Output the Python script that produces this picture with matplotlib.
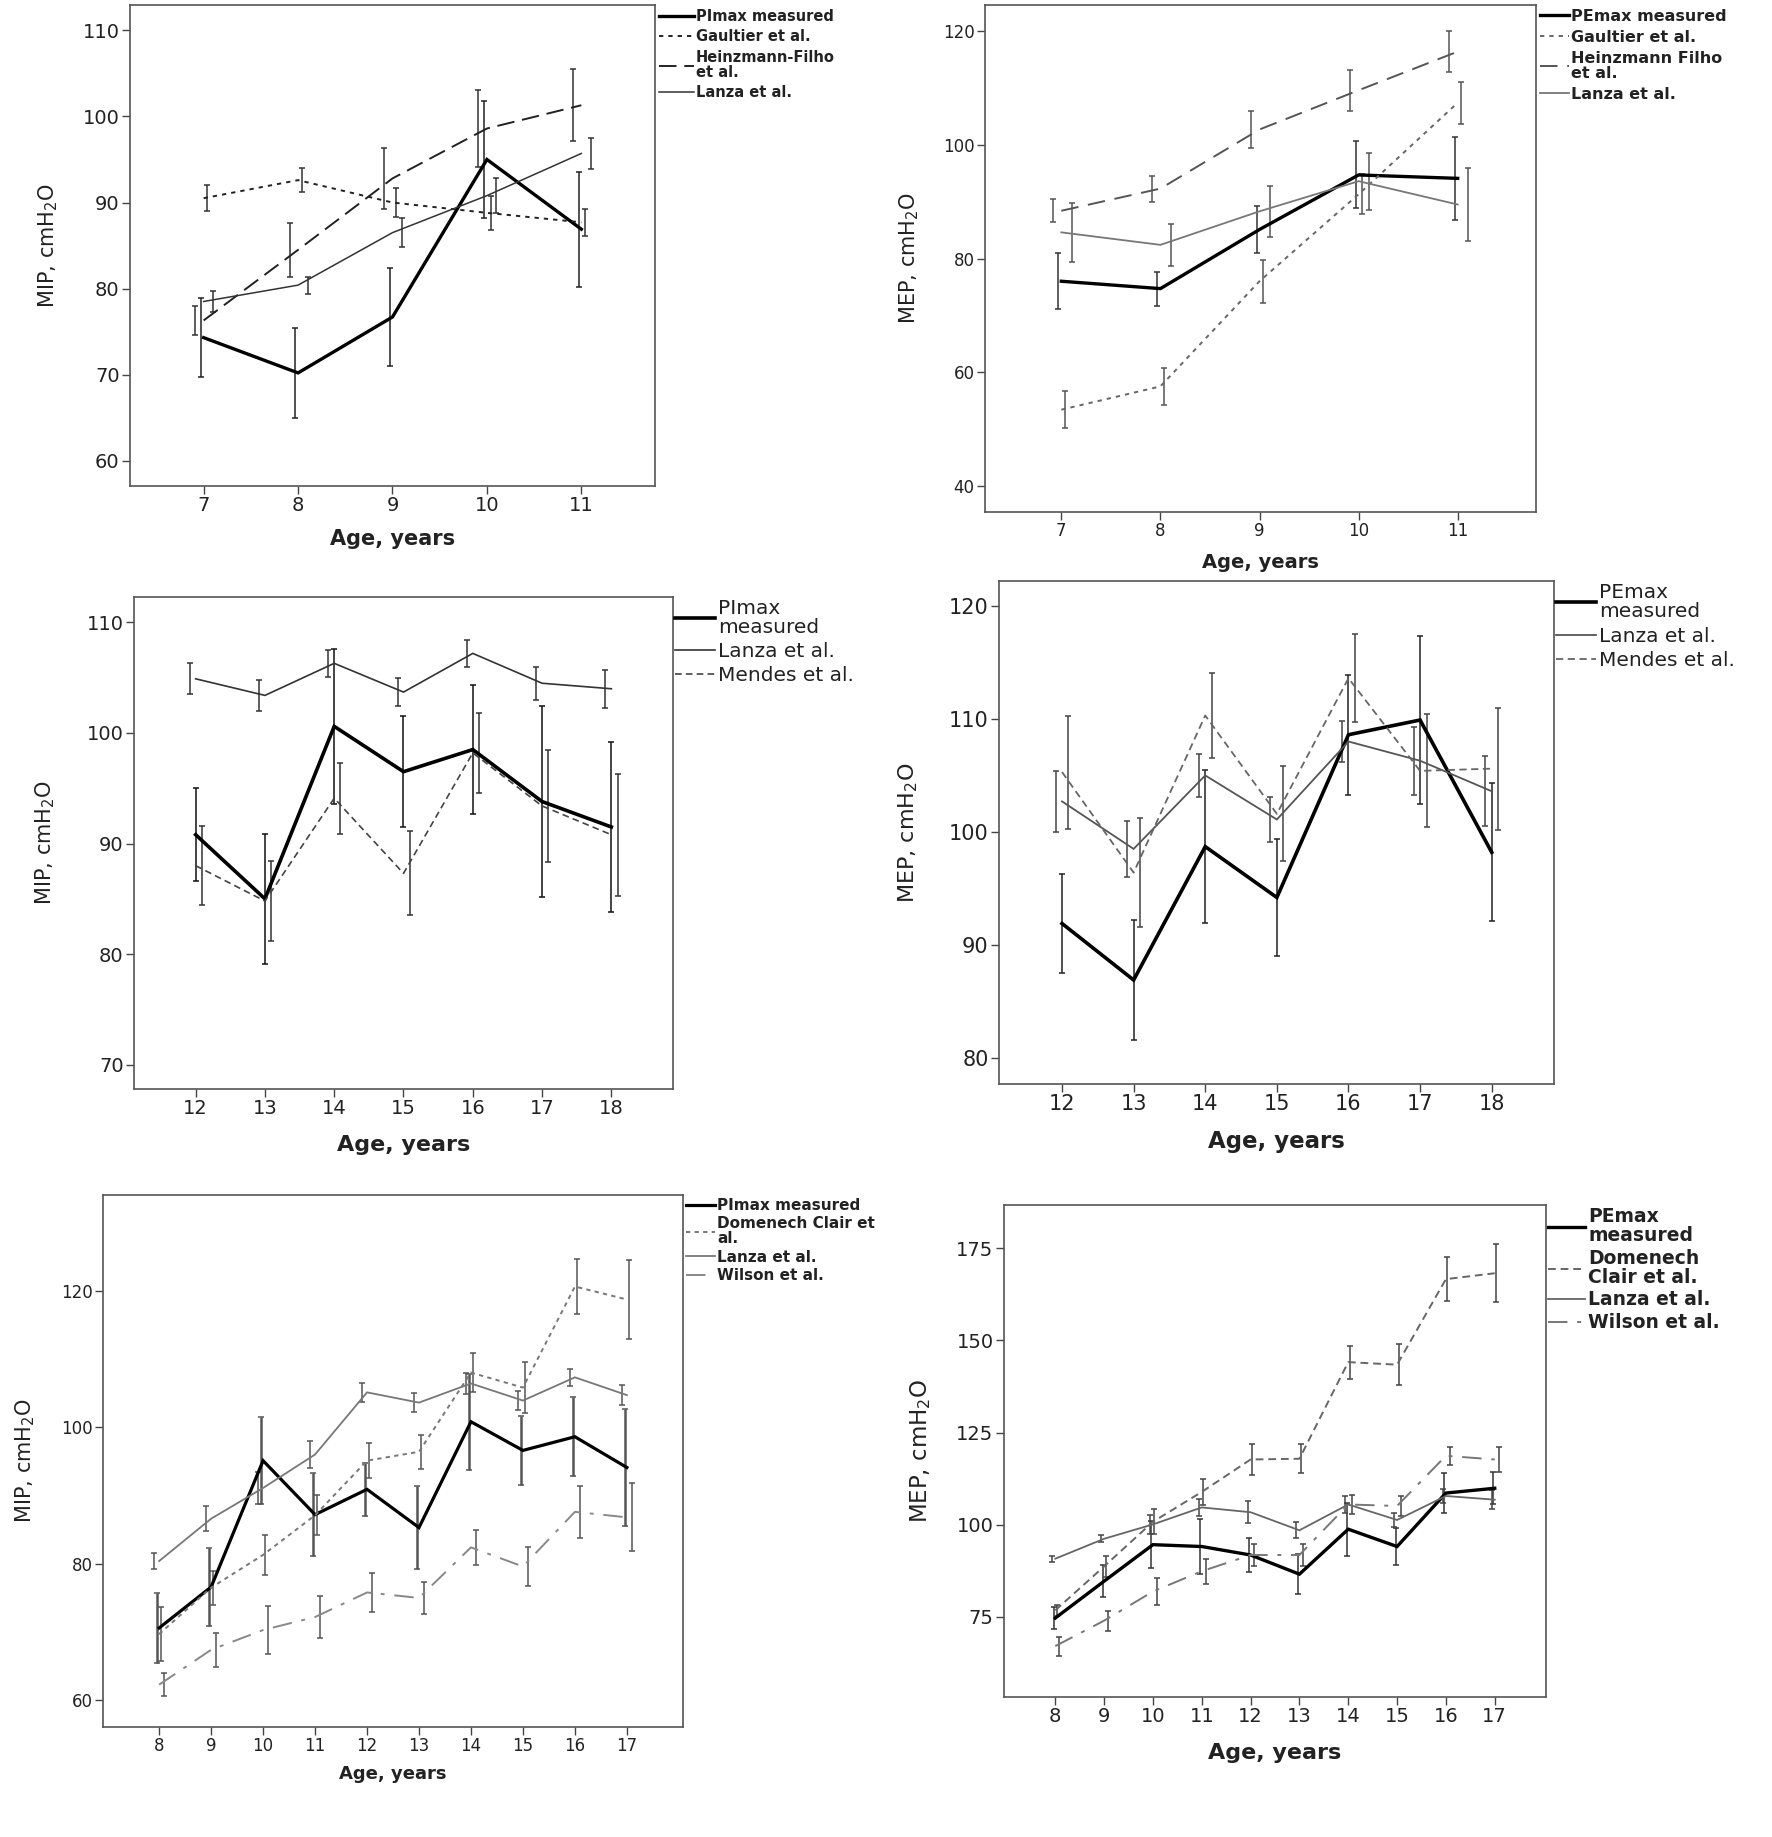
import matplotlib
matplotlib.use("Agg")
import matplotlib.pyplot as plt

plt.rcParams['font.family'] = ['DejaVu Sans']
plt.rcParams['mathtext.fontset'] = 'dejavusans'

# ---------------- DATA ----------------
# Panel 1: MIP, ages 7-11
p1_age = [7, 8, 9, 10, 11]
p1_measured = [74.3, 70.2, 76.7, 95.0, 86.9]
p1_measured_err = [4.6, 5.2, 5.7, 6.8, 6.7]
p1_gaultier = [90.5, 92.6, 90.0, 88.8, 87.7]
p1_gaultier_err = [1.5, 1.4, 1.7, 2.0, 1.6]
p1_heinzmann = [76.3, 84.5, 92.8, 98.6, 101.3]
p1_heinzmann_err = [1.7, 3.1, 3.5, 4.5, 4.2]
p1_lanza = [78.5, 80.4, 86.5, 90.8, 95.7]
p1_lanza_err = [1.2, 1.0, 1.7, 2.0, 1.8]

# Panel 2: MEP, ages 7-11
p2_age = [7, 8, 9, 10, 11]
p2_measured = [76.0, 74.7, 85.1, 94.7, 94.1]
p2_measured_err = [4.9, 3.0, 4.1, 5.9, 7.3]
p2_gaultier = [53.4, 57.5, 76.0, 91.3, 107.4]
p2_gaultier_err = [3.3, 3.2, 3.8, 3.5, 3.7]
p2_heinzmann = [88.4, 92.3, 102.7, 109.6, 116.4]
p2_heinzmann_err = [2.0, 2.3, 3.3, 3.6, 3.6]
p2_lanza = [84.6, 82.4, 88.3, 93.6, 89.5]
p2_lanza_err = [5.2, 3.7, 4.5, 5.0, 6.5]

# Panel 3: MIP, ages 12-18
p3_age = [12, 13, 14, 15, 16, 17, 18]
p3_measured = [90.8, 85.0, 100.6, 96.5, 98.5, 93.8, 91.5]
p3_measured_err = [4.2, 5.9, 7.0, 5.0, 5.8, 8.6, 7.7]
p3_lanza = [104.9, 103.4, 106.3, 103.7, 107.2, 104.5, 104.0]
p3_lanza_err = [1.4, 1.4, 1.2, 1.3, 1.2, 1.5, 1.7]
p3_mendes = [88.0, 84.8, 94.1, 87.3, 98.2, 93.4, 90.8]
p3_mendes_err = [3.6, 3.6, 3.2, 3.8, 3.6, 5.1, 5.5]

# Panel 4: MEP, ages 12-18
p4_age = [12, 13, 14, 15, 16, 17, 18]
p4_measured = [91.9, 86.9, 98.7, 94.2, 108.6, 109.9, 98.2]
p4_measured_err = [4.4, 5.3, 6.8, 5.2, 5.3, 7.4, 6.1]
p4_lanza = [102.7, 98.5, 105.0, 101.1, 108.0, 106.3, 103.6]
p4_lanza_err = [2.7, 2.5, 1.9, 2.0, 1.8, 3.0, 3.1]
p4_mendes = [105.3, 96.4, 110.3, 101.6, 113.6, 105.4, 105.6]
p4_mendes_err = [5.0, 4.8, 3.8, 4.2, 3.9, 5.0, 5.4]

# Panel 5: MIP, ages 8-17
p5_age = [8, 9, 10, 11, 12, 13, 14, 15, 16, 17]
p5_measured = [70.6, 76.6, 95.1, 87.2, 90.9, 85.3, 100.8, 96.6, 98.6, 94.1]
p5_measured_err = [5.1, 5.7, 6.4, 6.1, 3.9, 6.1, 7.0, 5.0, 5.8, 8.6]
p5_domenech = [69.7, 76.5, 81.3, 87.1, 95.1, 96.4, 108.0, 105.8, 120.6, 118.7]
p5_domenech_err = [4.0, 2.5, 2.9, 2.9, 2.6, 2.5, 2.8, 3.7, 4.0, 5.8]
p5_lanza = [80.4, 86.6, 91.1, 96.0, 105.1, 103.6, 106.4, 103.9, 107.3, 104.7]
p5_lanza_err = [1.2, 1.8, 2.4, 2.0, 1.4, 1.4, 1.5, 1.4, 1.2, 1.5]
p5_wilson = [62.3, 67.4, 70.3, 72.2, 75.8, 75.0, 82.4, 79.6, 87.6, 86.8]
p5_wilson_err = [1.7, 2.5, 3.5, 3.1, 2.8, 2.4, 2.6, 2.9, 3.8, 5.0]

# Panel 6: MEP, ages 8-17
p6_age = [8, 9, 10, 11, 12, 13, 14, 15, 16, 17]
p6_measured = [74.7, 84.7, 94.6, 94.1, 91.8, 86.6, 98.8, 94.1, 108.6, 109.9]
p6_measured_err = [3.0, 4.3, 6.4, 7.5, 4.5, 5.5, 7.2, 5.0, 5.3, 4.3]
p6_domenech = [76.8, 88.7, 100.8, 108.9, 117.7, 117.9, 144.1, 143.4, 166.6, 168.2]
p6_domenech_err = [1.5, 2.8, 3.4, 3.5, 4.1, 3.9, 4.5, 5.5, 6.0, 7.9]
p6_lanza = [90.8, 96.2, 100.1, 104.7, 103.4, 98.5, 105.5, 101.3, 107.8, 106.8]
p6_lanza_err = [0.8, 1.0, 2.5, 2.3, 3.0, 2.2, 2.4, 2.0, 2.0, 2.5]
p6_wilson = [67.1, 74.0, 81.9, 87.4, 91.8, 91.8, 105.5, 105.1, 118.7, 117.7]
p6_wilson_err = [2.6, 2.7, 3.6, 3.4, 3.1, 3.1, 2.5, 2.8, 2.5, 3.4]

# ---------------- FIGURE ----------------
W, H = 1772, 1837
fig = plt.figure(figsize=(W / 100, H / 100), dpi=100)


def add_box(l, t, r, b):
    return fig.add_axes([l / W, 1 - b / H, (r - l) / W, (b - t) / H])


def draw_panel(ax, x, series, xlim, ylim, yticks, ylabel, tick_fs, xl_fs, yl_fs,
               ylabelpad, xlabelpad, leg_fs, leg_bold, handlelen, leg_lsp, leg_linesp,
               leg_pad=0.15):
    handles = []
    for s in series:
        xs = [v + s['off'] for v in x]
        ax.errorbar(xs, s['y'], yerr=s['err'], fmt='none', ecolor=s['ecolor'],
                    elinewidth=s.get('elw', 1.1), capsize=2.5, capthick=1.1, zorder=2)
        ln, = ax.plot(x, s['y'], color=s['color'], linestyle=s['ls'], lw=s['lw'],
                      label=s['label'], zorder=3, solid_joinstyle='miter')
        handles.append(ln)
    ax.set_xlim(*xlim)
    ax.set_ylim(*ylim)
    ax.set_xticks(x)
    ax.set_yticks(yticks)
    for sp in ax.spines.values():
        sp.set_color('#555555')
        sp.set_linewidth(1.2)
    ax.tick_params(direction='out', length=6, width=1.0, color='#444444',
                   labelsize=tick_fs, labelcolor='#222222', pad=1.5)
    ax.set_xlabel('Age, years', fontsize=xl_fs, fontweight='bold', labelpad=xlabelpad,
                  color='#222222')
    ax.set_ylabel(ylabel, fontsize=yl_fs, labelpad=ylabelpad, color='#222222')
    leg = ax.legend(handles=handles, loc='upper left', bbox_to_anchor=(1.0, 1.0),
                    frameon=False, borderaxespad=0.0, borderpad=leg_pad,
                    handlelength=handlelen, handletextpad=0.15,
                    labelspacing=leg_lsp,
                    prop={'size': leg_fs, 'weight': 'bold' if leg_bold else 'normal'})
    for t in leg.get_texts():
        t.set_linespacing(leg_linesp)
        t.set_color('#222222')
    return ax


# Panel 1
ax1 = add_box(130, 5, 655, 486)
draw_panel(ax1, p1_age, [
    dict(y=p1_measured, err=p1_measured_err, off=-0.03, color='black', ecolor='#222222',
         ls='-', lw=2.4, label='PImax measured'),
    dict(y=p1_gaultier, err=p1_gaultier_err, off=0.04, color='#222222', ecolor='#333333',
         ls=(0, (2.2, 2.6)), lw=1.4, label='Gaultier et al.'),
    dict(y=p1_heinzmann, err=p1_heinzmann_err, off=-0.09, color='#222222', ecolor='#333333',
         ls=(0, (9, 4)), lw=1.4, label='Heinzmann-Filho\net al.'),
    dict(y=p1_lanza, err=p1_lanza_err, off=0.10, color='#333333', ecolor='#333333',
         ls='-', lw=1.1, label='Lanza et al.'),
], (6.22, 11.78), (57.06, 112.95), [60, 70, 80, 90, 100, 110], r'MIP, cmH$_2$O',
    14, 15, 15, 16, 10, 10.5, True, 2.4, 0.38, 1.0, 0.25)

# Panel 2
ax2 = add_box(985, 5, 1536, 512)
draw_panel(ax2, p2_age, [
    dict(y=p2_measured, err=p2_measured_err, off=-0.03, color='black', ecolor='#333333',
         ls='-', lw=2.4, label='PEmax measured'),
    dict(y=p2_gaultier, err=p2_gaultier_err, off=0.035, color='#666666', ecolor='#555555',
         ls=(0, (2.2, 2.6)), lw=1.4, label='Gaultier et al.'),
    dict(y=p2_heinzmann, err=p2_heinzmann_err, off=-0.085, color='#555555', ecolor='#555555',
         ls=(0, (9, 5)), lw=1.4, label='Heinzmann Filho\net al.'),
    dict(y=p2_lanza, err=p2_lanza_err, off=0.105, color='#777777', ecolor='#555555',
         ls='-', lw=1.3, label='Lanza et al.'),
], (6.23, 11.79), (35.4, 124.6), [40, 60, 80, 100, 120], r'MEP, cmH$_2$O',
    12, 14, 15, 16, 9, 11.5, True, 1.8, 0.38, 0.98, 0.25)

# Panel 3
ax3 = add_box(134, 597, 673, 1089)
draw_panel(ax3, p3_age, [
    dict(y=p3_measured, err=p3_measured_err, off=0.0, color='black', ecolor='#111111',
         ls='-', lw=2.6, label='PImax\nmeasured'),
    dict(y=p3_lanza, err=p3_lanza_err, off=-0.085, color='#333333', ecolor='#333333',
         ls='-', lw=1.2, label='Lanza et al.'),
    dict(y=p3_mendes, err=p3_mendes_err, off=0.09, color='#444444', ecolor='#333333',
         ls=(0, (4, 2.5)), lw=1.2, label='Mendes et al.'),
], (11.11, 18.89), (67.8, 112.3), [70, 80, 90, 100, 110], r'MIP, cmH$_2$O',
    14, 16, 15, 21, 12, 14.5, False, 2.0, 0.25, 1.0, 0.1)

# Panel 4
ax4 = add_box(999, 581, 1554, 1084)
draw_panel(ax4, p4_age, [
    dict(y=p4_measured, err=p4_measured_err, off=0.0, color='black', ecolor='#222222',
         ls='-', lw=2.6, label='PEmax\nmeasured'),
    dict(y=p4_lanza, err=p4_lanza_err, off=-0.09, color='#555555', ecolor='#444444',
         ls='-', lw=1.3, label='Lanza et al.'),
    dict(y=p4_mendes, err=p4_mendes_err, off=0.09, color='#666666', ecolor='#444444',
         ls=(0, (4, 2.5)), lw=1.3, label='Mendes et al.'),
], (11.12, 18.87), (77.7, 122.2), [80, 90, 100, 110, 120], r'MEP, cmH$_2$O',
    15, 16.5, 16, 21, 11, 14.5, False, 2.0, 0.28, 1.0, 0.1)

# Panel 5
ax5 = add_box(103, 1195, 683, 1727)
draw_panel(ax5, p5_age, [
    dict(y=p5_measured, err=p5_measured_err, off=-0.04, color='black', ecolor='#555555',
         ls='-', lw=2.3, label='PImax measured', elw=1.8),
    dict(y=p5_domenech, err=p5_domenech_err, off=0.04, color='#777777', ecolor='#555555',
         ls=(0, (2.2, 2.2)), lw=1.4, label='Domenech Clair et\nal.'),
    dict(y=p5_lanza, err=p5_lanza_err, off=-0.10, color='#777777', ecolor='#555555',
         ls='-', lw=1.3, label='Lanza et al.'),
    dict(y=p5_wilson, err=p5_wilson_err, off=0.10, color='#888888', ecolor='#555555',
         ls=(0, (10, 5, 2, 5)), lw=1.4, label='Wilson et al.'),
], (6.92, 18.08), (56.1, 134.0), [60, 80, 100, 120], r'MIP, cmH$_2$O',
    12, 13, 15, 17, 7, 11, True, 1.9, 0.22, 0.98, 0.2)

# Panel 6
ax6 = add_box(1004, 1205, 1546, 1697)
draw_panel(ax6, p6_age, [
    dict(y=p6_measured, err=p6_measured_err, off=-0.03, color='black', ecolor='#333333',
         ls='-', lw=2.4, label='PEmax\nmeasured'),
    dict(y=p6_domenech, err=p6_domenech_err, off=0.03, color='#666666', ecolor='#444444',
         ls=(0, (4, 2.5)), lw=1.4, label='Domenech\nClair et al.'),
    dict(y=p6_lanza, err=p6_lanza_err, off=-0.06, color='#666666', ecolor='#444444',
         ls='-', lw=1.3, label='Lanza et al.'),
    dict(y=p6_wilson, err=p6_wilson_err, off=0.08, color='#777777', ecolor='#444444',
         ls=(0, (10, 5, 2, 5)), lw=1.4, label='Wilson et al.'),
], (6.95, 18.05), (53.3, 186.7), [75, 100, 125, 150, 175], r'MEP, cmH$_2$O',
    14, 16, 16.5, 17, 12, 13.5, True, 2.0, 0.2, 1.0, 0.1)

fig.savefig('out.png', dpi=100, facecolor='white')
